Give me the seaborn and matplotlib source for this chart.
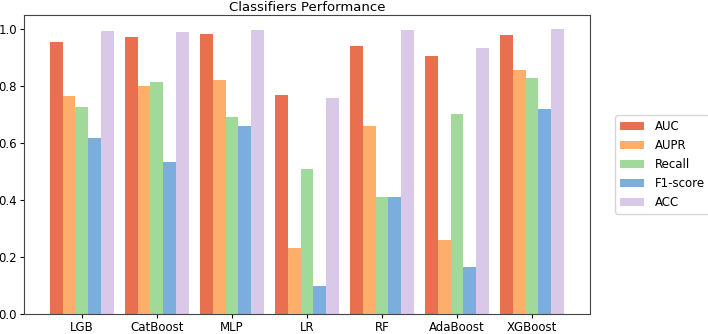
import pandas as pd
import numpy as np
import matplotlib
matplotlib.use("Agg")
import matplotlib.pyplot as plt
import seaborn as sns

models = ["LGB", "CatBoost", "MLP", "LR", "RF", "AdaBoost", "XGBoost"]
metrics = ["AUC", "AUPR", "Recall", "F1-score", "ACC"]

auc = [0.955, 0.970, 0.980, 0.766, 0.939, 0.905, 0.978]
aupr = [0.763, 0.798, 0.820, 0.231, 0.660, 0.259, 0.854]
recall = [0.724, 0.814, 0.690, 0.509, 0.410, 0.702, 0.826]
f1 = [0.618, 0.533, 0.659, 0.098, 0.410, 0.166, 0.720]
acc = [0.993, 0.988, 0.995, 0.756, 0.995, 0.931, 0.998]

colors = ["#E8704F", "#FDAE6B", "#A1D99B", "#7BAEDC", "#D9C8E8"]

# long format for seaborn
rows = []
for name, vals in zip(metrics, [auc, aupr, recall, f1, acc]):
    for m, v in zip(models, vals):
        rows.append({"model": m, "metric": name, "score": v})
df = pd.DataFrame(rows)

fig = plt.figure(figsize=(7.08, 3.34), dpi=100)
ax = fig.add_axes([0.034, 0.06, 0.799, 0.895])

sns.barplot(data=df, x="model", y="score", hue="metric", palette=colors,
            width=0.85, saturation=1, ax=ax, errorbar=None)

ax.set_xlim(-0.77, 6.77)
ax.set_ylim(0, 1.048)
ax.set_xlabel("")
ax.set_ylabel("")
ax.set_title("Classifiers Performance", fontsize=9.5, pad=3)
ax.tick_params(labelsize=8.5, length=3, pad=2)
for s in ax.spines.values():
    s.set_color("#444444")

ax.legend(loc="center left", bbox_to_anchor=(1.035, 0.5), fontsize=8.5,
          handlelength=2.0, handletextpad=0.9, frameon=True)

fig.savefig("out.png", dpi=100)
